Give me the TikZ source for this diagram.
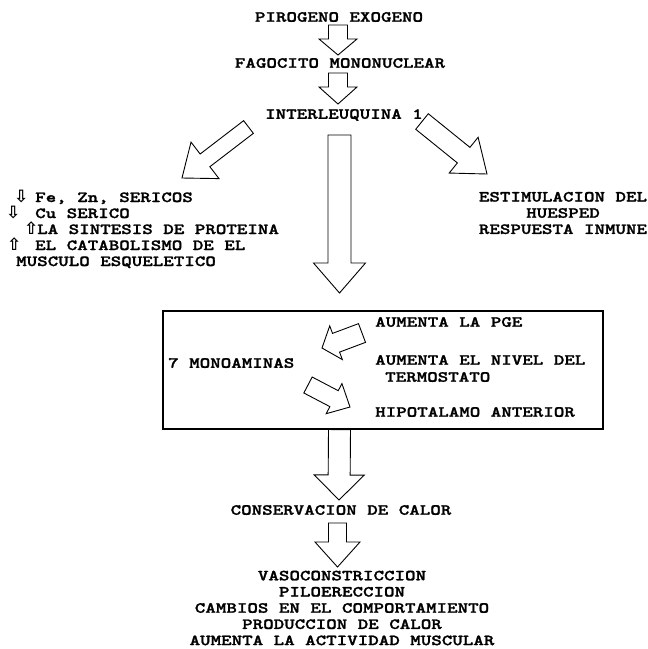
\documentclass[tikz,border=0pt]{standalone}
\usepackage{fontspec}
\usetikzlibrary{calc}
\newfontfamily\twfont{lmmonolt10-bold.otf}[FakeStretch=1.3,FakeBold=1.6]
\newfontfamily\arrfont{DejaVu Sans Bold}
\tikzset{
  tw/.style={inner sep=0pt, font=\twfont\fontsize{15.4}{16.2}\selectfont},
  fatline/.style={line width=0.9pt, line join=miter},
}
\newcommand{\flecha}[1]{{\arrfont\fontsize{17}{17}\selectfont #1}}
% hollow block arrow: tail, tip, shaft half width, head half width, head length
\newcommand{\fatarrow}[5]{%
  \coordinate (fa-base) at ($(#2)!#5!(#1)$);
  \draw[fatline] ($(#1)!#3!90:(#2)$) -- ($(fa-base)!#3!-90:(#1)$) -- ($(fa-base)!#4!-90:(#1)$) -- (#2)
    -- ($(fa-base)!#4!90:(#1)$) -- ($(fa-base)!#3!90:(#1)$) -- ($(#1)!#3!-90:(#2)$) -- cycle;}

\begin{document}
\begin{tikzpicture}[x=1pt,y=1pt,yscale=-1]
\useasboundingbox (0,0) rectangle (648,649);

% Text Node
\node[tw] (pirogeno) at (339,17) {PIROGENO EXOGENO};
% Text Node
\node[tw] (fagocito) at (340,63) {FAGOCITO MONONUCLEAR};
% Text Node
\node[tw] (interleuquina) at (344,115) {INTERLEUQUINA 1};

%Shape: Arrow
\coordinate (a1-tail) at (338,25);
\coordinate (a1-tip) at (338,55);
\fatarrow{a1-tail}{a1-tip}{9.5pt}{19pt}{16pt}
%Shape: Arrow
\coordinate (a2-tail) at (338,73);
\coordinate (a2-tip) at (338,104);
\fatarrow{a2-tail}{a2-tip}{9.5pt}{19pt}{17pt}
%Shape: Arrow
\coordinate (izq-tail) at (248.5,127);
\coordinate (izq-tip) at (182,178);
\fatarrow{izq-tail}{izq-tip}{8pt}{23pt}{29pt}
%Shape: Arrow
\coordinate (der-tail) at (422,121.5);
\coordinate (der-tip) at (487,174);
\fatarrow{der-tail}{der-tip}{10pt}{23pt}{30pt}
%Shape: Arrow
\coordinate (big-tail) at (339.5,135);
\coordinate (big-tip) at (339.5,293);
\fatarrow{big-tail}{big-tip}{11.5pt}{26pt}{30pt}

% Text Node
\node[tw, anchor=base west] (fe) at (14,202) {\makebox[21pt][l]{\flecha{⇩}}Fe, Zn, SERICOS};
% Text Node
\node[tw, anchor=base west] (cu) at (6,218) {\makebox[29pt][l]{\flecha{⇩}}Cu SERICO};
% Text Node
\node[tw, anchor=base west] (sintesis) at (24,234) {\makebox[13pt][l]{\flecha{⇧}}LA SINTESIS DE PROTEINA};
% Text Node
\node[tw, anchor=base west] (catabolismo) at (7,250) {\makebox[28pt][l]{\flecha{⇧}}EL CATABOLISMO DE EL};
% Text Node
\node[tw, anchor=base west] (musculo) at (16,266) {MUSCULO ESQUELETICO};

% Text Node
\node[tw, align=center] (estimulacion) at (563,213) {ESTIMULACION DEL\\HUESPED\\RESPUESTA INMUNE};

% Box
\node[draw, line width=1.2pt, minimum width=440pt, minimum height=118pt, inner sep=0pt] (caja) at (383,370) {};
% Text Node
\node[tw, anchor=west] (monoaminas) at (168,363) {7 MONOAMINAS};
% Text Node
\node[tw, anchor=west] (pge) at (375,322) {AUMENTA LA PGE};
% Text Node
\node[tw, anchor=west] (nivel) at (375,360) {AUMENTA EL NIVEL DEL};
% Text Node
\node[tw, anchor=west] (termostato) at (385,377) {TERMOSTATO};
% Text Node
\node[tw, anchor=west] (hipotalamo) at (375,412) {HIPOTALAMO ANTERIOR};
%Shape: Arrow
\coordinate (s1-tail) at (362,333);
\coordinate (s1-tip) at (322,348);
\fatarrow{s1-tail}{s1-tip}{10pt}{18pt}{15pt}
%Shape: Arrow
\coordinate (s2-tail) at (308,385);
\coordinate (s2-tip) at (350,407);
\fatarrow{s2-tail}{s2-tip}{9pt}{17pt}{18pt}

%Shape: Arrow
\coordinate (a3-tail) at (caja.south -| big-tip);
\coordinate (a3-tip) at (339,500);
\fatarrow{a3-tail}{a3-tip}{11pt}{25pt}{25pt}
% Text Node
\node[tw] (conservacion) at (341,510) {CONSERVACION DE CALOR};
%Shape: Arrow
\coordinate (a4-tail) at (337.5,523);
\coordinate (a4-tip) at (337.5,567);
\fatarrow{a4-tail}{a4-tip}{9pt}{22.5pt}{25pt}
% Text Node
\node[tw, align=center] (respuestas) at (342,608) {VASOCONSTRICCION\\PILOERECCION\\CAMBIOS EN EL COMPORTAMIENTO\\PRODUCCION DE CALOR\\AUMENTA LA ACTIVIDAD MUSCULAR};

\end{tikzpicture}
\end{document}
